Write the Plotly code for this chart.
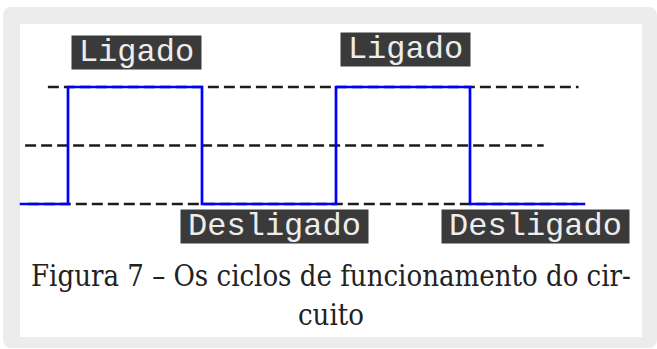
import plotly.graph_objects as go

# ---- data ----
# square wave: transition times (ms) and levels (V)
wave_t = [-3.6, 0, 10, 20, 30, 38.6]
wave_v = [0, 5, 0, 5, 0, 0]

# dashed reference levels
ref_levels = [5, 2.5, 0]
ref_start = [-1.5, -3.2, -3.0]
ref_end = [38.1, 35.5, 38.0]

# state labels
label_text = ["Ligado", "Ligado", "Desligado", "Desligado"]
label_t = [5.1, 25.2, 15.4, 34.9]
label_v = [6.47, 6.6, -0.96, -0.96]
label_w = [129, 129, 187, 187]

caption_lines = ["Figura 7 – Os ciclos de funcionamento do cir-", "cuito"]

W, H = 657, 349
def px(x):
    return x / W
def py(y):
    return 1 - y / H

fig = go.Figure()

for lv, s, e in zip(ref_levels, ref_start, ref_end):
    fig.add_trace(go.Scatter(x=[s, e], y=[lv, lv], mode="lines",
                             line=dict(color="#1c1c1c", width=2.6, dash="11px,5px"),
                             hoverinfo="skip", showlegend=False))

fig.add_trace(go.Scatter(x=wave_t, y=wave_v, mode="lines", line_shape="hv",
                         line=dict(color="#0000ff", width=2.7),
                         hoverinfo="skip", showlegend=False))

for txt, t, v, w in zip(label_text, label_t, label_v, label_w):
    fig.add_annotation(x=t, y=v, xref="x", yref="y", text=txt, showarrow=False,
                       font=dict(family="Courier New, Liberation Mono, monospace",
                                 size=32, color="#ededed"),
                       bgcolor="#3a3a3a", width=w, height=33, borderpad=0,
                       align="center", valign="middle")

cap_font = dict(family="DejaVu Serif Condensed, Liberation Serif, serif", size=29, color="#222222")
fig.add_annotation(x=px(331), y=py(276), xref="paper", yref="paper", text=caption_lines[0],
                   showarrow=False, font=cap_font, xanchor="center", yanchor="middle")
fig.add_annotation(x=px(331), y=py(315), xref="paper", yref="paper", text=caption_lines[1],
                   showarrow=False, font=cap_font, xanchor="center", yanchor="middle")

# frame: gray rounded box with white inner panel
x0, y0, x1, y1, r = px(3), py(7), px(657), py(348), 9
rx, ry = r / W, r / H
path = (f"M {x0+rx} {y0} L {x1-rx} {y0} Q {x1} {y0} {x1} {y0-ry} "
        f"L {x1} {y1+ry} Q {x1} {y1} {x1-rx} {y1} L {x0+rx} {y1} "
        f"Q {x0} {y1} {x0} {y1+ry} L {x0} {y0-ry} Q {x0} {y0} {x0+rx} {y0} Z")
fig.add_shape(type="path", path=path, xref="paper", yref="paper",
              fillcolor="#ececec", line=dict(width=0), layer="below")
fig.add_shape(type="rect", x0=px(20), y0=py(24), x1=px(642), y1=py(337),
              xref="paper", yref="paper", fillcolor="#ffffff", line=dict(width=0), layer="below")

# axes: t (ms) -> pixel = 68 + 13.4 t ; V -> pixel = 204 - 23.4 V
fig.update_xaxes(range=[(0 - 68) / 13.4, (W - 68) / 13.4], visible=False, fixedrange=True)
fig.update_yaxes(range=[(204 - H) / 23.4, 204 / 23.4], visible=False, fixedrange=True)

fig.update_layout(width=W, height=H, margin=dict(l=0, r=0, t=0, b=0),
                  paper_bgcolor="#ffffff", plot_bgcolor="rgba(0,0,0,0)",
                  showlegend=False)

fig.write_html("out.html", config={"displayModeBar": False},
               post_script="document.body.style.margin='0';document.body.style.overflow='hidden';")
